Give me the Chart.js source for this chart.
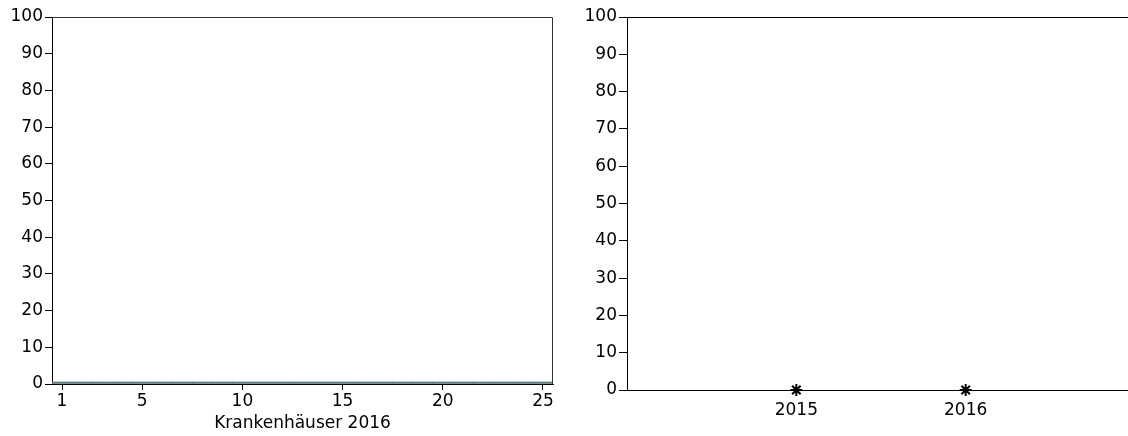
<!DOCTYPE html>
<html>
<head>
<meta charset="utf-8">
<script src="https://cdn.jsdelivr.net/npm/chart.js@4/dist/chart.umd.min.js"></script>
<style>
  html, body { margin: 0; padding: 0; background: #fff; overflow: hidden; width: 1128px; height: 436px; position: relative; }
  #left { position: absolute; left: 0; top: 0; }
  #right { position: absolute; left: 575px; top: 0; }
</style>
</head>
<body>
<canvas id="left" width="560" height="436"></canvas>
<canvas id="right" width="568" height="436"></canvas>
<script>
// data
const hospitals = [1, 2, 3, 4, 5, 6, 7, 8, 9, 10, 11, 12, 13, 14, 15, 16, 17, 18, 19, 20, 21, 22, 23, 24, 25];
const values2016 = [0, 0, 0, 0, 0, 0, 0, 0, 0, 0, 0, 0, 0, 0, 0, 0, 0, 0, 0, 0, 0, 0, 0, 0, 0];
const hospitalTicks = [1, 5, 10, 15, 20, 25];
const years = [2015, 2016];
const yearValues = [0, 0];
const yTicks = [0, 10, 20, 30, 40, 50, 60, 70, 80, 90, 100];

Chart.defaults.font.family = 'DejaVu Sans';
Chart.defaults.font.size = 17;
Chart.defaults.color = '#000';

function frame(color, sides) {
  return {
    id: 'frame',
    afterDraw(chart) {
      const a = chart.chartArea, ctx = chart.ctx;
      ctx.save();
      ctx.strokeStyle = color;
      ctx.lineWidth = 1;
      ctx.beginPath();
      ctx.moveTo(a.left, a.top + 0.5);
      ctx.lineTo(a.right - 0.5, a.top + 0.5);
      if (sides > 1) ctx.lineTo(a.right - 0.5, a.bottom);
      ctx.stroke();
      ctx.restore();
    }
  };
}

const yAxis = (w, tl) => ({
  min: 0, max: 100,
  afterBuildTicks: s => { s.ticks = yTicks.map(v => ({ value: v })); },
  afterFit: s => { s.width = w; },
  ticks: { padding: 2 },
  grid: { drawOnChartArea: false, tickLength: tl, color: '#000' },
  border: { color: '#000' }
});

new Chart(document.getElementById('left'), {
  type: 'bar',
  data: {
    datasets: [{
      data: hospitals.map((h, i) => ({ x: h, y: values2016[i] })),
      backgroundColor: '#607a7a',
      barPercentage: 1,
      categoryPercentage: 1,
      minBarLength: 2
    }]
  },
  options: {
    responsive: false,
    animation: false,
    layout: { padding: { top: 17, right: 7, left: 0, bottom: 0 } },
    plugins: { legend: { display: false }, tooltip: { enabled: false } },
    scales: {
      x: {
        type: 'linear',
        offset: false,
        min: 0.5, max: 25.5,
        afterBuildTicks: s => { s.ticks = hospitalTicks.map(v => ({ value: v })); },
        afterFit: s => { s.height = 52; },
        ticks: { padding: 1 },
        grid: { offset: false, drawOnChartArea: false, tickLength: 6, color: '#000' },
        border: { color: '#000' },
        title: { display: true, text: 'Krankenhäuser 2016', padding: { top: 0, bottom: 2 } }
      },
      y: yAxis(52, 7)
    }
  },
  plugins: [frame('#333', 2)]
});

new Chart(document.getElementById('right'), {
  type: 'line',
  data: {
    datasets: [{
      data: years.map((y, i) => ({ x: y, y: yearValues[i] })),
      showLine: false,
      clip: false,
      pointStyle: 'star',
      pointRadius: 6,
      borderColor: '#000',
      backgroundColor: '#000',
      borderWidth: 2
    }]
  },
  options: {
    responsive: false,
    animation: false,
    layout: { padding: { top: 17, right: 0, left: 0, bottom: 0 } },
    plugins: { legend: { display: false }, tooltip: { enabled: false } },
    scales: {
      x: {
        type: 'linear',
        min: 2014, max: 2017,
        afterBuildTicks: s => { s.ticks = years.map(v => ({ value: v })); },
        afterFit: s => { s.height = 46; },
        ticks: { padding: 10, callback: v => String(v) },
        grid: { drawOnChartArea: false, drawTicks: false },
        border: { color: '#000' }
      },
      y: yAxis(52, 8)
    }
  },
  plugins: [frame('#000', 1)]
});
</script>
</body>
</html>
